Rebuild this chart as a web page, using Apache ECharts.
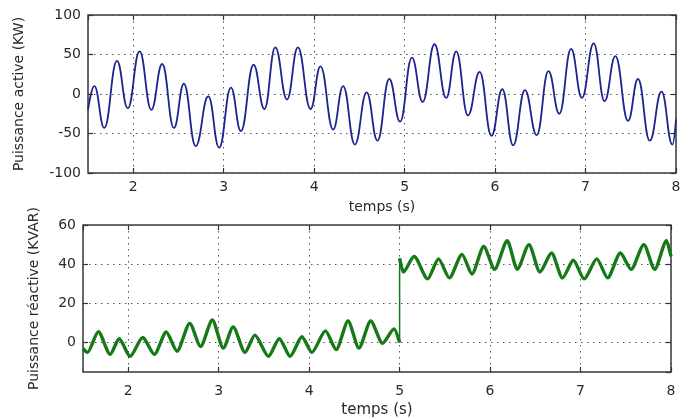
<!DOCTYPE html>
<html>
<head>
<meta charset="utf-8">
<script src="https://cdn.jsdelivr.net/npm/echarts@6/dist/echarts.min.js"></script>
<style>html,body{margin:0;padding:0;background:#fff;}#c{width:690px;height:419px;}</style>
</head>
<body>
<div id="c"></div>
<script>
// ---- Data ----
const activeTime = [1.50,1.57,1.68,1.82,1.94,2.07,2.20,2.32,2.45,2.56,2.69,2.83,2.95,3.08,3.19,3.33,3.45,3.57,3.70,3.82,3.96,4.07,4.21,4.32,4.45,4.58,4.70,4.83,4.95,5.08,5.20,5.33,5.46,5.57,5.70,5.83,5.96,6.08,6.20,6.33,6.46,6.59,6.71,6.84,6.96,7.09,7.21,7.33,7.47,7.58,7.71,7.84,7.96,8.00];
const activePower = [-20,10,-43,42,-18,54,-20,38,-43,13,-66,-3,-68,8,-47,37,-19,59,-7,59,-19,35,-45,10,-64,2,-59,19,-35,46,-10,63,-5,54,-27,28,-53,6,-65,5,-52,29,-25,57,-5,64,-9,48,-34,19,-59,3,-64,-32];

const reactTimeA = [1.50,1.55,1.67,1.80,1.90,2.02,2.16,2.29,2.42,2.54,2.68,2.80,2.93,3.05,3.16,3.29,3.40,3.55,3.67,3.79,3.92,4.03,4.18,4.30,4.43,4.55,4.68,4.81,4.94,5.00];
const reactPowerA = [-3,-5,5.5,-6,2,-7,2.6,-6,5.4,-4.4,9.8,-2,11.5,-2.8,8,-5,3.8,-7,2,-7,3,-5,6,-3.6,11,-2.8,11,-0.3,7,0];
const stepTime = [5.00,5.00];
const stepPower = [0,43];
const reactTimeB = [5.00,5.04,5.16,5.31,5.43,5.55,5.69,5.80,5.93,6.05,6.19,6.30,6.43,6.55,6.68,6.80,6.92,7.04,7.18,7.30,7.44,7.56,7.70,7.82,7.95,8.00];
const reactPowerB = [43,36,44,32.5,42.7,33,45,35,49,37.4,52,37.4,50,36,45.7,33,42,32.5,42.7,33,45.7,37.4,50,37.4,52,44];

const xMin = 1.5, xMax = 8;
const topYMin = -100, topYMax = 100, topYStep = 50;
const botYMin = -15, botYMax = 60, botYStep = 20;
const xAxisName = 'temps (s)';
const topYName = 'Puissance active (KW)';
const botYName = 'Puissance réactive (KVAR)';

function pairs(xs, ys){ return xs.map((x,i)=>[x, ys[i]]); }

const FONT = 'DejaVu Sans';
const TXT = '#2a2a2a';
const GRIDC = '#555';
const dotted = { color: GRIDC, width: 1, type: [1.5, 4.5] };
const tickStyle = {show:true, inside:true, length:5, lineStyle:{color:'#333', width:1.2}};

function xMain(gridIndex){
  return {
    type:'value', gridIndex, min:xMin, max:xMax, minInterval:1, maxInterval:1, splitNumber:6,
    name: xAxisName, nameLocation:'middle', nameGap: gridIndex===0 ? 27 : 31,
    nameTextStyle:{fontFamily:FONT, fontSize: gridIndex===0 ? 14 : 15, color:TXT},
    axisLine:{show:false, onZero:false},
    axisTick:tickStyle,
    axisLabel:{fontFamily:FONT, fontSize:14, color:TXT, margin: gridIndex===0 ? 7 : 12, showMinLabel:false},
    splitLine:{show:true, lineStyle:dotted}
  };
}
function xTop(gridIndex){
  return {
    type:'value', gridIndex, position:'top', min:xMin, max:xMax, minInterval:1, maxInterval:1, splitNumber:6,
    axisLine:{show:false, onZero:false}, axisLabel:{show:false}, splitLine:{show:false},
    axisTick:tickStyle
  };
}
function yMain(gridIndex, mn, mx, st, name, gap){
  const o = {
    type:'value', gridIndex, min:mn, max:mx, minInterval:st, maxInterval:st,
    name, nameLocation:'middle', nameGap:gap,
    nameTextStyle:{fontFamily:FONT, fontSize:14, color:TXT},
    axisLine:{show:false, onZero:false},
    axisTick:tickStyle,
    axisLabel:{fontFamily:FONT, fontSize:14, color:TXT, margin:7, showMinLabel: (mn % st === 0)},
    splitLine:{show:true, lineStyle:dotted}
  };
  if (mn % st === 0) o.interval = st;
  return o;
}
function yRight(gridIndex, mn, mx, st){
  const o = {
    type:'value', gridIndex, position:'right', min:mn, max:mx, minInterval:st, maxInterval:st,
    axisLine:{show:false, onZero:false}, axisLabel:{show:false}, splitLine:{show:false},
    axisTick:tickStyle
  };
  if (mn % st === 0) o.interval = st;
  return o;
}

const chart = echarts.init(document.getElementById('c'), null, {renderer:'canvas'});
chart.setOption({
  backgroundColor:'#ffffff',
  animation:false,
  grid:[
    {left:88, top:15, width:588, height:158, show:true, borderColor:'#3a3a3a', borderWidth:1.5, backgroundColor:'transparent'},
    {left:83, top:225, width:588, height:153, show:true, borderColor:'#3a3a3a', borderWidth:1.5, backgroundColor:'transparent'}
  ],
  xAxis:[ xMain(0), xTop(0), xMain(1), xTop(1) ],
  yAxis:[
    yMain(0, topYMin, topYMax, topYStep, topYName, 62),
    yRight(0, topYMin, topYMax, topYStep),
    yMain(1, botYMin, botYMax, botYStep, botYName, 42),
    yRight(1, botYMin, botYMax, botYStep)
  ],
  series:[
    {type:'line', xAxisIndex:0, yAxisIndex:0, data:pairs(activeTime, activePower), smooth:0.45, smoothMonotone:'x',
     showSymbol:false, lineStyle:{color:'#1c2490', width:1.8}},
    {type:'line', xAxisIndex:2, yAxisIndex:2, data:pairs(reactTimeA, reactPowerA), smooth:0.25, smoothMonotone:'x',
     showSymbol:false, lineStyle:{color:'#157a15', width:3.4}},
    {type:'line', xAxisIndex:2, yAxisIndex:2, data:pairs(stepTime, stepPower), smooth:false,
     showSymbol:false, lineStyle:{color:'#157a15', width:1.5}},
    {type:'line', xAxisIndex:2, yAxisIndex:2, data:pairs(reactTimeB, reactPowerB), smooth:0.25, smoothMonotone:'x',
     showSymbol:false, lineStyle:{color:'#157a15', width:3.4}}
  ]
});
</script>
</body>
</html>
